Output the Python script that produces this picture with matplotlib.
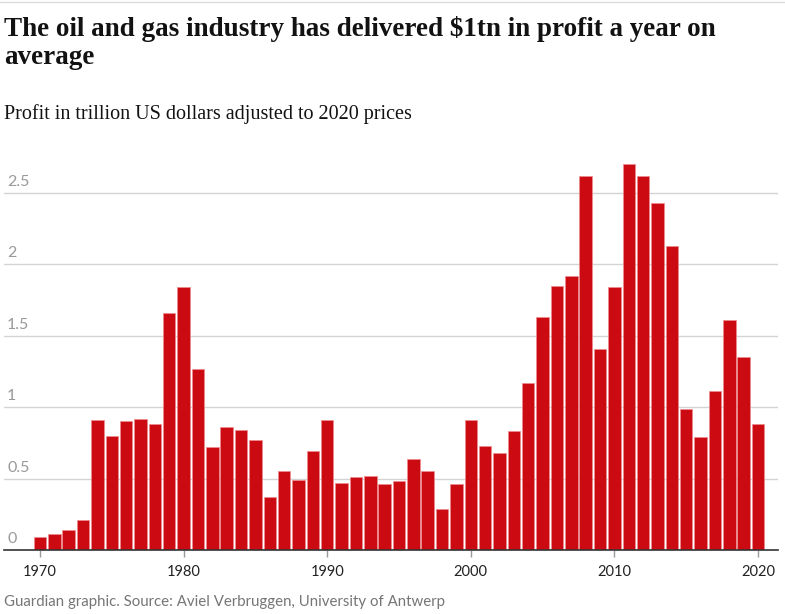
import matplotlib.pyplot as plt
import matplotlib.transforms as mtransforms
from matplotlib.lines import Line2D

# data (trillion US$, 2020 prices)
years = list(range(1970, 2021))
profit = [0.09, 0.11, 0.14, 0.21, 0.91, 0.80, 0.90, 0.92, 0.88, 1.66,
          1.84, 1.27, 0.72, 0.86, 0.84, 0.77, 0.37, 0.55, 0.49, 0.69,
          0.91, 0.47, 0.51, 0.52, 0.46, 0.48, 0.64, 0.55, 0.29, 0.46,
          0.91, 0.73, 0.68, 0.83, 1.17, 1.63, 1.85, 1.92, 2.62, 1.41,
          1.84, 2.70, 2.62, 2.43, 2.13, 0.99, 0.79, 1.11, 1.61, 1.35,
          0.88]
yticks = [0, 0.5, 1, 1.5, 2, 2.5]
ytick_labels = ['0', '0.5', '1', '1.5', '2', '2.5']
xticks = [1970, 1980, 1990, 2000, 2010, 2020]

W, H = 785, 614
fig = plt.figure(figsize=(W / 100, H / 100), dpi=100)

# axes box in pixels: left 4, right 778, bottom 550 (from top), top 150
left, right, top, bottom = 4, 778, 150, 550
ax = fig.add_axes([left / W, 1 - bottom / H, (right - left) / W, (bottom - top) / H])

px_per_year = 14.36
x0 = 1970 - (40 - left) / px_per_year
x1 = 1970 + (right - 40) / px_per_year
px_per_unit = (550 - 193) / 2.5
ymax = (bottom - top) / px_per_unit

ax.set_xlim(x0, x1)
ax.set_ylim(0, ymax)

for y in yticks[1:]:
    ax.axhline(y, color='#d4d4d4', lw=1.0, zorder=0)

ax.bar(years, profit, width=0.87, color='#cc0a11', edgecolor='#ee8a8f',
       linewidth=0.5, zorder=2)

for s in ['top', 'right', 'left']:
    ax.spines[s].set_visible(False)
ax.spines['bottom'].set_color('#333333')
ax.spines['bottom'].set_linewidth(1.2)
ax.spines['bottom'].set_zorder(3)

ax.set_yticks([])
ax.set_xticks(xticks)
ax.set_xticklabels([str(x) for x in xticks], fontsize=10.5, color='#222222',
                   family='Lato')
ax.tick_params(axis='x', length=5, width=1, color='#999999', pad=6)

# y labels sit just above each gridline
trans = mtransforms.offset_copy(ax.get_yaxis_transform(), fig=fig, x=0, y=4, units='dots')
for y, lab in zip(yticks, ytick_labels):
    ax.text(0.004, y, lab, transform=trans, ha='left', va='bottom',
            fontsize=11.5, color='#999999', family='Lato')

# top rule
fig.add_artist(Line2D([0, 1], [1 - 2 / H, 1 - 2 / H], color='#dcdcdc', lw=1))

fig.text(4 / W, 1 - 36 / H, 'The oil and gas industry has delivered $1tn in profit a year on',
         fontsize=19.5, fontweight='bold', family='Liberation Serif', color='#121212')
fig.text(4 / W, 1 - 64 / H, 'average',
         fontsize=19.5, fontweight='bold', family='Liberation Serif', color='#121212')
fig.text(4 / W, 1 - 119 / H, 'Profit in trillion US dollars adjusted to 2020 prices',
         fontsize=14.5, family='Liberation Serif', color='#121212')
fig.text(4 / W, 1 - 606 / H, 'Guardian graphic. Source: Aviel Verbruggen, University of Antwerp',
         fontsize=10.8, family='Lato', color='#767676')

fig.savefig('out.png', dpi=100)
